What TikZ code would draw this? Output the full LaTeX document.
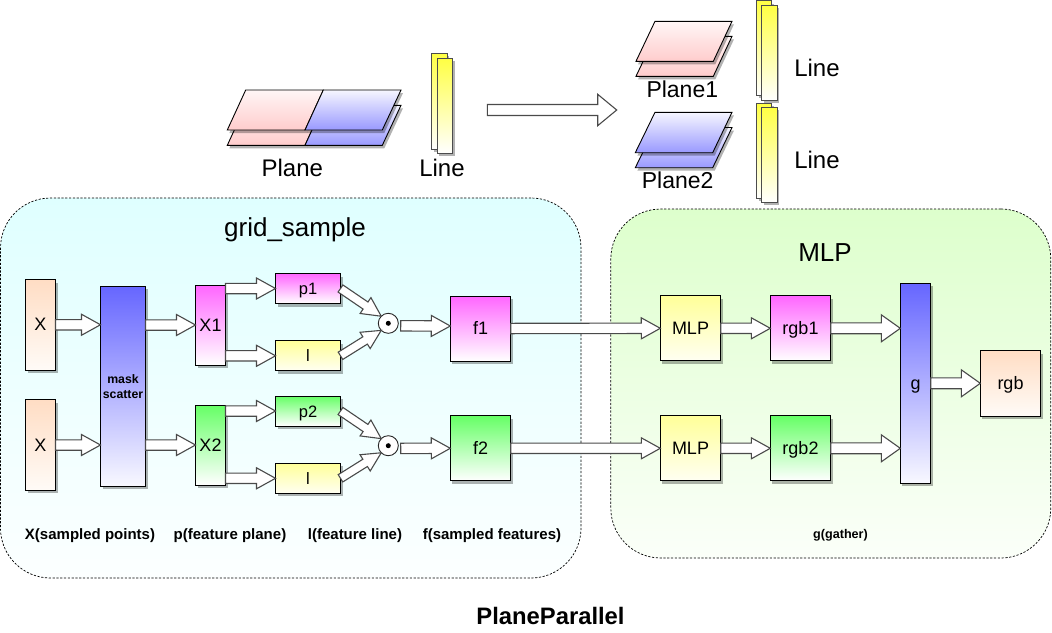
\documentclass[tikz,border=0pt]{standalone}
\usepackage{fontspec}
\setmainfont{Liberation Sans}
\usetikzlibrary{calc,shadows}
\definecolor{cOrange}{HTML}{FFDDC4}
\definecolor{cOrangeB}{HTML}{FFFBF7}
\definecolor{cBlue}{HTML}{6666FF}
\definecolor{cBlueB}{HTML}{F8F8FF}
\definecolor{cMag}{HTML}{FF66FF}
\definecolor{cGreen}{HTML}{66FF66}
\definecolor{cYel}{HTML}{FFFF99}
\definecolor{cYelB}{HTML}{FFFFF2}
\definecolor{cYelS}{HTML}{FFFF44}
\definecolor{cPink}{HTML}{FFCCCC}
\definecolor{cPinkT}{HTML}{FFF6F6}
\definecolor{cPeri}{HTML}{9999FF}
\definecolor{cPeriT}{HTML}{F6F6FF}
\definecolor{cCyan}{HTML}{DFFFFF}
\definecolor{cCyanB}{HTML}{FCFFFF}
\definecolor{cLime}{HTML}{DDFFCC}
\definecolor{cLimeB}{HTML}{FBFFF9}
\definecolor{cArrow}{HTML}{4A4A4A}
\newcommand{\fsz}[1]{\fontsize{#1}{#1}\selectfont}
\tikzset{
  shad/.style={drop shadow={shadow xshift=2pt,shadow yshift=-3pt,fill=black,opacity=.3}},
  block/.style={draw=black,line width=.9pt,rectangle,inner sep=0pt,outer sep=0pt,shad,font=\fsz{18},text height=12pt,text depth=0pt},
  gradOrange/.style={top color=cOrange,bottom color=cOrangeB},
  gradBlue/.style={top color=cBlue,bottom color=cBlueB},
  gradMag/.style={top color=cMag,bottom color=white},
  gradGreen/.style={top color=cGreen,bottom color=white},
  gradYel/.style={top color=cYel,bottom color=cYelB},
  panel/.style={draw=black,line width=.7pt,dash pattern=on 2.2pt off 1.6pt,rounded corners=50pt,inner sep=0pt,outer sep=0pt,rectangle},
  arrowbase/.style n args={3}{draw=cArrow,fill=white,line width=1.1pt,to path={
    -- ($(\tikztostart)!#1!90:(\tikztotarget)$)
    -- ($(\tikztotarget)!#3!(\tikztostart)!#1!90:(\tikztotarget)$)
    -- ($(\tikztotarget)!#3!(\tikztostart)!#2!90:(\tikztotarget)$)
    -- (\tikztotarget)
    -- ($(\tikztotarget)!#3!(\tikztostart)!#2!-90:(\tikztotarget)$)
    -- ($(\tikztotarget)!#3!(\tikztostart)!#1!-90:(\tikztotarget)$)
    -- ($(\tikztostart)!#1!-90:(\tikztotarget)$)
    -- cycle}},
  blockarrow/.style={arrowbase={5.2pt}{10.5pt}{19pt}},
  bigarrow/.style={arrowbase={5.4pt}{13.5pt}{19pt}},
  slantarrow/.style={arrowbase={4.3pt}{9.6pt}{19pt}},
  hugearrow/.style={arrowbase={5.5pt}{15.7pt}{19pt}},
  planeshape/.style={draw=black,line width=.9pt,line join=miter,shad},
  pinkplane/.style={planeshape,top color=cPinkT,bottom color=cPink},
  periplane/.style={planeshape,top color=cPeriT,bottom color=cPeri},
  linestrip/.style={draw=black!70,line width=.9pt,shad,top color=cYelS,bottom color=white},
  title/.style={anchor=base,inner sep=0pt,font=\fsz{24}},
  note/.style={anchor=base,inner sep=0pt,font=\fsz{15}\bfseries},
  prod/.style={circle,draw=black!85,line width=.9pt,fill=white,minimum size=20pt,inner sep=0pt,outer sep=0pt},
  proddot/.style={circle,fill=black,minimum size=5pt,inner sep=0pt},
}
\begin{document}
\begin{tikzpicture}[x=1pt,y=-1pt]
\path[use as bounding box] (0,0) rectangle (1052,632);

% panels
\node[panel,top color=cCyan,bottom color=cCyanB,minimum width=580.5pt,minimum height=380pt] (gridpanel) at (290.75,388) {};
\node[panel,top color=cLime,bottom color=cLimeB,minimum width=440pt,minimum height=349pt] (mlppanel) at (830.8,383.5) {};

% top left planes
\draw[pinkplane] (245.7,105.3) -- (323.3,105.3) -- (305,145.3) -- (227.3,145.3) -- cycle;
\draw[periplane] (323.3,105.3) -- (401,105.3) -- (382.3,145.3) -- (305,145.3) -- cycle;
\draw[pinkplane] (245.7,90) -- (323.3,90) -- (305,130) -- (227.3,130) -- cycle;
\draw[periplane] (323.3,90) -- (401,90) -- (382.3,130) -- (305,130) -- cycle;
\draw[linestrip] (431.7,53.3) rectangle (447.3,149.3);
\draw[linestrip] (437.3,58.3) rectangle (452.7,153.3);
\node[title] (tplane) at (292.3,176.7) {Plane};
\node[title] (tline) at (442,176.7) {Line};

% transition arrow
\coordinate (trA) at (487.3,110);
\coordinate (trB) at (616.7,110);
\draw[hugearrow] (trA) to (trB);

% top right planes
\draw[pinkplane] (655,36.3) -- (732,36.3) -- (713.3,76.3) -- (636,76.3) -- cycle;
\draw[pinkplane] (655,21.3) -- (732,21.3) -- (713.3,61.3) -- (636,61.3) -- cycle;
\node[title,font=\fsz{23}] (tplaneone) at (682.3,97.7) {Plane1};
\draw[periplane] (655,127.5) -- (732,127.5) -- (712.7,167.7) -- (635.3,167.7) -- cycle;
\draw[periplane] (655,112.3) -- (732,112.3) -- (712.7,152.7) -- (635.3,152.7) -- cycle;
\node[title,font=\fsz{23}] (tplanetwo) at (677.7,188.3) {Plane2};
\draw[linestrip] (756.7,0.5) rectangle (771.7,95);
\draw[linestrip] (761.7,5.3) rectangle (777,100.3);
\draw[linestrip] (756.7,103.3) rectangle (771.7,198.3);
\draw[linestrip] (761.7,107.3) rectangle (777,202.3);
\node[title] (tlineone) at (817,76) {Line};
\node[title] (tlinetwo) at (817,168) {Line};

% panel titles
\node[title,font=\fsz{26}] (tgrid) at (295,236) {grid\_sample};
\node[title,font=\fsz{26}] (tmlp) at (825,261) {MLP};

% blocks
\node[block,gradOrange,minimum width=30pt,minimum height=90.5pt] (xa) at (40.5,324.75) {X};
\node[block,gradOrange,minimum width=30pt,minimum height=90.5pt] (xb) at (40.5,445) {X};
\node[block,gradBlue,minimum width=45pt,minimum height=200pt] (mask) at (123,386) {};
\node[align=center,inner sep=0pt,font=\fsz{12.3}\bfseries] (masktext) at (123,386.5) {mask\\[3pt]scatter};
\node[block,gradMag,minimum width=30pt,minimum height=80pt] (xone) at (210.5,325) {X1};
\node[block,gradGreen,minimum width=30pt,minimum height=80pt] (xtwo) at (210.5,445) {X2};
\node[block,gradMag,minimum width=65pt,minimum height=30pt,font=\fsz{16.5}] (pone) at (308,288.5) {p1};
\node[block,gradYel,minimum width=65pt,minimum height=30pt,font=\fsz{16.5}] (lone) at (308,355.8) {l};
\node[block,gradGreen,minimum width=65pt,minimum height=30pt,font=\fsz{16.5}] (ptwo) at (308,411) {p2};
\node[block,gradYel,minimum width=65pt,minimum height=30pt,font=\fsz{16.5}] (ltwo) at (308,478.3) {l};
\node[prod] (cone) at (388.3,323.3) {};
\node[proddot] (done) at (cone.center) {};
\node[prod] (ctwo) at (388.3,445.7) {};
\node[proddot] (dtwo) at (ctwo.center) {};
\node[block,gradMag,minimum width=60.4pt,minimum height=65pt] (fone) at (480.5,328.5) {f1};
\node[block,gradGreen,minimum width=60.4pt,minimum height=65pt] (ftwo) at (480.5,448.3) {f2};
\node[block,gradYel,minimum width=60.4pt,minimum height=65pt] (mone) at (690.5,328.3) {MLP};
\node[block,gradYel,minimum width=60.4pt,minimum height=65pt] (mtwo) at (690.5,448.3) {MLP};
\node[block,gradMag,minimum width=60.4pt,minimum height=65pt] (rone) at (800.5,328.3) {rgb1};
\node[block,gradGreen,minimum width=60.4pt,minimum height=65pt] (rtwo) at (800.5,448.3) {rgb2};
\node[block,gradBlue,minimum width=30.4pt,minimum height=200pt] (gg) at (915.5,383.3) {g};
\node[block,gradOrange,minimum width=60.4pt,minimum height=65.3pt] (rgb) at (1010.5,383.3) {rgb};

% connectors
\draw[blockarrow] (xa.east) to (mask.west |- xa.east);
\draw[blockarrow] (xb.east) to (mask.west |- xb.east);
\draw[blockarrow] (mask.east |- xone.west) to (xone.west);
\draw[blockarrow] (mask.east |- xtwo.west) to (xtwo.west);
\draw[blockarrow] (xone.east |- pone.west) to (pone.west);
\draw[blockarrow] (xone.east |- lone.west) to (lone.west);
\draw[blockarrow] (xtwo.east |- ptwo.west) to (ptwo.west);
\draw[blockarrow] (xtwo.east |- ltwo.west) to (ltwo.west);
\draw[slantarrow] (pone.east) to (cone.north west);
\draw[slantarrow] (lone.east) to (cone.south west);
\draw[slantarrow] (ptwo.east) to (ctwo.north west);
\draw[slantarrow] (ltwo.east) to (ctwo.south west);
\draw[blockarrow] ([xshift=2.4pt,yshift=-2.5pt]cone.east) to ([yshift=2.5pt]fone.west);
\draw[blockarrow] ([xshift=2.4pt,yshift=-2.7pt]ctwo.east) to (ftwo.west);
\draw[blockarrow] (fone.east) to (mone.west);
\draw[blockarrow] (ftwo.east) to (mtwo.west);
\draw[blockarrow] (mone.east) to (rone.west);
\draw[blockarrow] (mtwo.east) to (rtwo.west);
\draw[bigarrow] (rone.east) to (gg.west |- rone.east);
\draw[bigarrow] (rtwo.east) to (gg.west |- rtwo.east);
\draw[bigarrow] (gg.east) to (rgb.west);

% notes
\node[note] (nx) at (90,539) {X(sampled points)};
\node[note] (np) at (230,539) {p(feature plane)};
\node[note] (nl) at (355,539) {l(feature line)};
\node[note] (nf) at (492,539) {f(sampled features)};
\node[note,font=\fsz{12.6}\bfseries] (ng) at (840.5,538) {g(gather)};
\node[title,font=\fsz{23.8}\bfseries] (tpp) at (550.5,624) {PlaneParallel};
\end{tikzpicture}
\end{document}
